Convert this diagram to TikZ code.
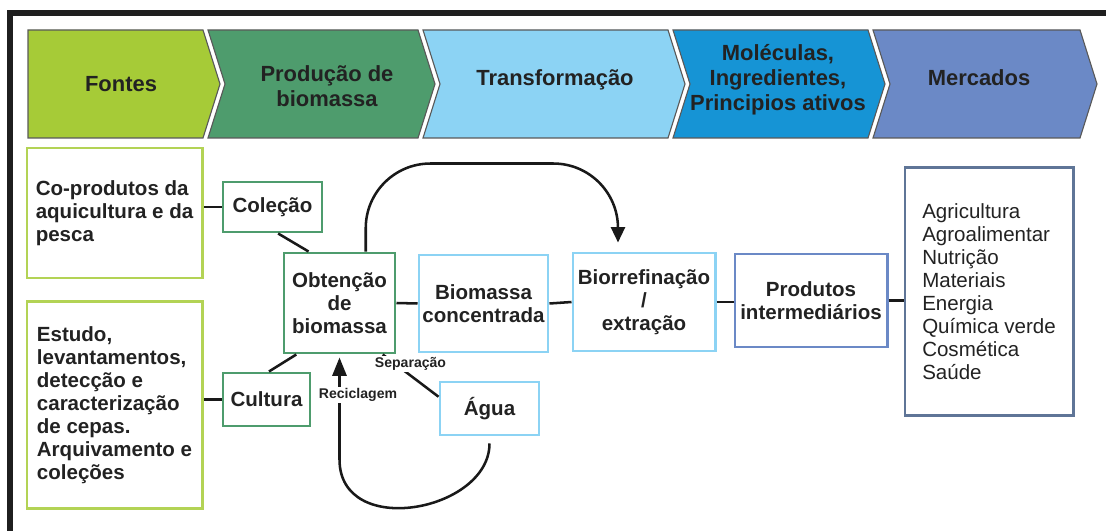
\documentclass[tikz,border=0pt]{standalone}
\usepackage{fontspec}
\setmainfont{Liberation Sans}
\usepackage{xcolor}
\usepackage{tikz}
\usetikzlibrary{arrows.meta, positioning, calc}

\definecolor{fontesgreen}{HTML}{A6CB37}
\definecolor{prodgreen}{HTML}{4E9C6D}
\definecolor{transblue}{HTML}{8CD3F4}
\definecolor{molblue}{HTML}{1694D5}
\definecolor{mercblue}{HTML}{6B89C6}
\definecolor{slateblue}{HTML}{5F7597}
\definecolor{inkgray}{HTML}{222222}

\tikzset{
  chevron/.style={draw=black!65, line width=0.8pt},
  headtext/.style={font=\bfseries\fontsize{15.6}{17.8}\selectfont, text=inkgray, align=center},
  box/.style={draw, line width=2.1pt, font=\bfseries\fontsize{14.6}{16.4}\selectfont,
    text=inkgray, align=center, inner sep=0pt},
  srcbox/.style={box, draw=fontesgreen!85!white, align=left},
  prodbox/.style={box, draw=prodgreen},
  transbox/.style={box, draw=transblue},
  mercbox/.style={box, draw=mercblue},
  listbox/.style={box, draw=slateblue, align=left, font=\fontsize{14.6}{16.4}\selectfont},
  link/.style={line width=1.8pt, black!90},
  flow/.style={link, -{Triangle[length=11pt, width=10pt]}},
  tag/.style={font=\bfseries\fontsize{10}{12}\selectfont, text=inkgray, fill=white, inner sep=0.8pt},
}

\begin{document}
\begin{tikzpicture}[x=0.025cm, y=-0.025cm]

    \useasboundingbox (0,0) rectangle (1106,531);

    % chain of stages
    \filldraw[chevron, fill=fontesgreen] (28,30) -- (203,30) -- (220,84) -- (203,138) -- (28,138) -- cycle;
    \filldraw[chevron, fill=prodgreen] (208,30) -- (418,30) -- (435,84) -- (418,138) -- (208,138) -- (225,84) -- cycle;
    \filldraw[chevron, fill=transblue] (423,30) -- (668,30) -- (685,84) -- (668,138) -- (423,138) -- (440,84) -- cycle;
    \filldraw[chevron, fill=molblue] (673,30) -- (868,30) -- (885,84) -- (868,138) -- (673,138) -- (690,84) -- cycle;
    \filldraw[chevron, fill=mercblue] (873,30) -- (1080,30) -- (1097,84) -- (1080,138) -- (873,138) -- (890,84) -- cycle;

    \node[headtext] (hfontes) at (121,84) {Fontes};
    \node[headtext] (hprod) at (327,86) {Produção de\\biomassa};
    \node[headtext] (htrans) at (555,80) {Transformação};
    \node[headtext] (hmol) at (778,80) {Moléculas,\\Ingredientes,\\Principios ativos};
    \node[headtext] (hmerc) at (979,78) {Mercados};

    \draw[line width=4pt, black!88] (10,531) -- (10,13) -- (1106,13);

    % boxes
    \node[srcbox, minimum width=4.375cm, minimum height=3.25cm] (coprod) at (114.5,213)
        {Co-produtos da\\aquicultura e da\\pesca};
    \node[srcbox, minimum width=4.375cm, minimum height=5.15cm] (estudo) at (114.5,405)
        {Estudo,\\levantamentos,\\detecção e\\caracterização\\de cepas.\\Arquivamento e\\coleções};
    \node[prodbox, minimum width=2.475cm, minimum height=1.25cm] (colecao) at (272.5,207) {Coleção};
    \node[prodbox, minimum width=2.175cm, minimum height=1.325cm] (cultura) at (266.5,399.5) {Cultura};
    \node[prodbox, minimum width=2.775cm, minimum height=2.5cm] (obtencao) at (339.5,303) {Obtenção\\de\\biomassa};
    \node[transbox, minimum width=3.225cm, minimum height=2.425cm] (biomassa) at (483.5,303.5) {Biomassa\\concentrada};
    \node[transbox, minimum width=3.55cm, minimum height=2.45cm] (biorref) at (644,302) {Biorrefinação\\/\\extração};
    \node[transbox, minimum width=2.475cm, minimum height=1.325cm] (agua) at (489.5,408.5) {Água};
    \node[mercbox, minimum width=3.8cm, minimum height=2.325cm] (produtos) at (811,300.5) {Produtos\\intermediários};
    \node[listbox, minimum width=4.2cm, minimum height=6.175cm] (mercados) at (989,291.5)
        {Agricultura\\Agroalimentar\\Nutrição\\Materiais\\Energia\\Química verde\\Cosmética\\Saúde};

    % links
    \draw[link] (colecao.west) -- (colecao.west -| coprod.east);
    \draw[link] (cultura.west) -- (cultura.west -| estudo.east);
    \draw[link] (colecao.-78) -- (obtencao.121);
    \draw[link] (cultura.85) -- (obtencao.-130);
    \draw[link] (obtencao.east) -- (biomassa.west);
    \draw[link] (biomassa.east) -- (biorref.west);
    \draw[link] (biorref.east) -- (biorref.east -| produtos.west);
    \draw[link] (produtos.east) -- (produtos.east -| mercados.west);
    \draw[link] (obtencao.-50) -- (agua.167);

    % loops
    \draw[flow, rounded corners=46pt] (obtencao.63) |- ($(biorref.north)+(-26,-88)$) -- ($(biorref.north)+(-26,-9)$);
    \draw[flow, -{Triangle[length=13pt, width=10pt]}] ($(agua.south)+(0,7)$) .. controls +(0,68) and +(0,80) ..
        ($(obtencao.south)+(0,105)$) -- ($(obtencao.south)+(0,3)$);

    \node[tag] (sep) at (410.5,364) {Separação};
    \node[tag] (recic) at (358,395) {Reciclagem};

\end{tikzpicture}
\end{document}
